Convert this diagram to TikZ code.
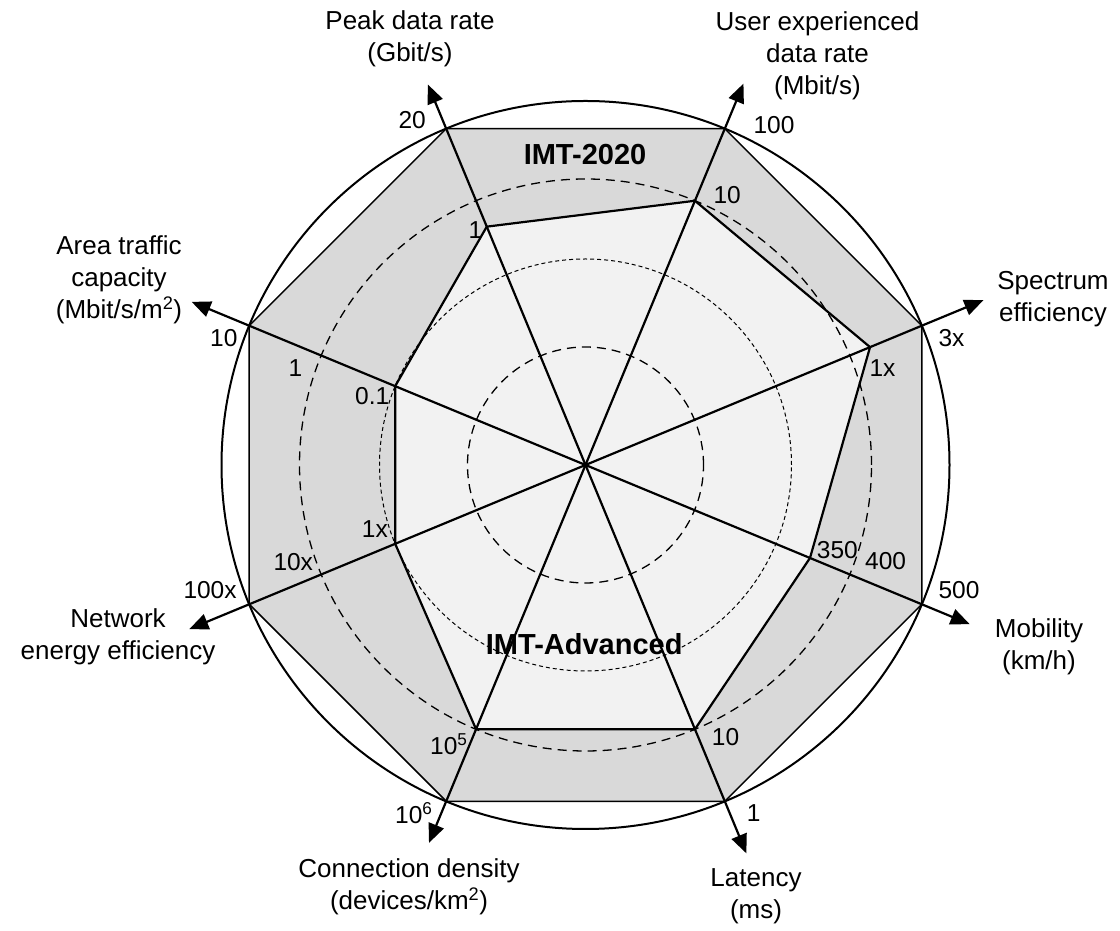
\documentclass[tikz,border=0pt]{standalone}
\usepackage{fontspec}
\setmainfont{Liberation Sans}
\usetikzlibrary{arrows.meta,calc}
\definecolor{band}{RGB}{217,217,217}
\definecolor{core}{RGB}{242,242,242}
\begin{document}
\begin{tikzpicture}[x=1pt,y=1pt,
  axislabel/.style={font=\fontsize{26}{32}\selectfont, align=center, anchor=base, inner sep=0pt},
  ticklabel/.style={font=\fontsize{24.5}{30}\selectfont, anchor=base west, inner sep=0pt},
  setlabel/.style={font=\fontsize{29}{34}\selectfont\bfseries, anchor=base, inner sep=0pt},
  axisline/.style={line width=2.2pt, line cap=round,
    {Triangle[length=19pt,width=16pt]}-{Triangle[length=19pt,width=16pt]}},
  ringA/.style={line width=1.3pt, dash pattern=on 9pt off 6pt},
  ringB/.style={line width=1pt, dash pattern=on 4pt off 3pt},
  border/.style={line width=2pt},
]
\useasboundingbox (0,0) rectangle (1120,931);
\coordinate (C) at (585.5,466);

\begin{scope}[shift={(585.5,466)}]
  % octagon corners of the target set
  \foreach \i in {0,...,7} \coordinate (o\i) at (22.5+45*\i:364);
  % corners of the current-generation set
  \foreach \i/\r in {0/308,1/286,2/258,3/206,4/206,5/286,6/286,7/243}
    \coordinate (a\i) at (22.5+45*\i:\r);
  % arrow tips of the eight axes
  \foreach \i/\r in {0/430.7,1/412.8,2/411.8,3/426.3,4/428.8,5/409,6/420.4,7/415.8}
    \coordinate (t\i) at (22.5+45*\i:\r);
\end{scope}

% filled areas
\filldraw[fill=band, draw=black, line width=1.5pt]
  (o0) -- (o1) -- (o2) -- (o3) -- (o4) -- (o5) -- (o6) -- (o7) -- cycle;
\fill[core] (a0) -- (a1) -- (a2) -- (a3) -- (a4) -- (a5) -- (a6) -- (a7) -- cycle;

% reference rings
\draw[ringA] (C) circle[radius=118];
\draw[ringB] (C) circle[radius=206];
\draw[ringA] (C) circle[radius=286];

% outline of the current-generation set
\draw[line width=2.2pt, line join=miter]
  (a0) -- (a1) -- (a2) -- (a3) -- (a4) -- (a5) -- (a6) -- (a7) -- cycle;

% axes
\draw[axisline] (t0) -- (t4);
\draw[axisline] (t1) -- (t5);
\draw[axisline] (t2) -- (t6);
\draw[axisline] (t3) -- (t7);

% outer ring
\draw[border] (C) circle[radius=364];

% axis titles (anchored at the baseline of the last line)
\node[axislabel] (lPeak) at (410,869.3) {Peak data rate\\(Gbit/s)};
\node[axislabel] (lUser) at (817.5,836) {User experienced\\data rate\\(Mbit/s)};
\node[axislabel] (lSpec) at (1053,609.3) {Spectrum\\efficiency};
\node[axislabel] (lMob) at (1039,261) {Mobility\\(km/h)};
\node[axislabel] (lLat) at (756,12) {Latency\\(ms)};
\node[axislabel] (lConn) at (409,21) {Connection density\\(devices/km\textsuperscript{2})};
\node[axislabel] (lNet) at (118,271) {Network\\energy efficiency};
\node[axislabel] (lArea) at (119,612) {Area traffic\\capacity\\(Mbit/s/m\textsuperscript{2})};

% scale values
\node[ticklabel] (v1) at (398.3,802.7) {20};
\node[ticklabel] (v2) at (468.3,692.7) {1};
\node[ticklabel] (v3) at (753.3,797.7) {100};
\node[ticklabel] (v4) at (713.3,727.7) {10};
\node[ticklabel] (v5) at (938.3,584.3) {3x};
\node[ticklabel] (v6) at (869.3,554.3) {1x};
\node[ticklabel] (v7) at (938.3,332.7) {500};
\node[ticklabel] (v8) at (865,361) {400};
\node[ticklabel] (v9) at (816.7,372.7) {350};
\node[ticklabel] (v10) at (746.7,109.3) {1};
\node[ticklabel] (v11) at (711.7,185) {10};
\node[ticklabel] (v12) at (395,107.7) {10\textsuperscript{6}};
\node[ticklabel] (v13) at (430,176) {10\textsuperscript{5}};
\node[ticklabel] (v14) at (183.3,332.7) {100x};
\node[ticklabel] (v15) at (273.3,360.3) {10x};
\node[ticklabel] (v16) at (361.7,393.7) {1x};
\node[ticklabel] (v17) at (210,584.3) {10};
\node[ticklabel] (v18) at (288.3,554.3) {1};
\node[ticklabel] (v19) at (355,526) {0.1};

% set names
\node[setlabel] (sNew) at (585,766) {IMT-2020};
\node[setlabel] (sOld) at (584.2,276) {IMT-Advanced};
\end{tikzpicture}
\end{document}
